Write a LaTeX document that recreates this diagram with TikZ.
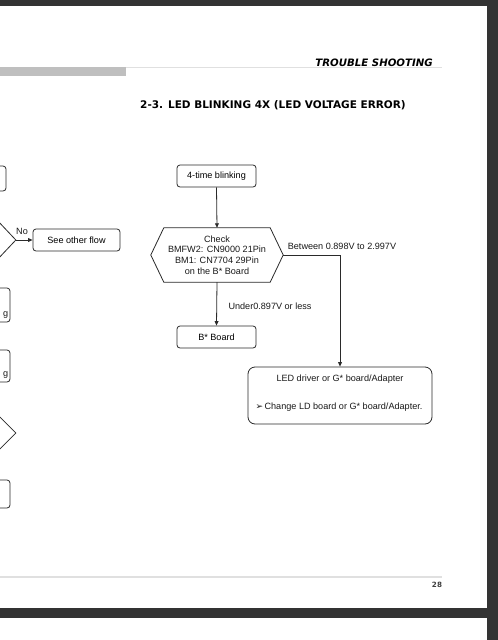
\documentclass[tikz,border=0pt]{standalone}
\usepackage{fontspec}
\setmainfont{Liberation Sans}
\newfontfamily\dvsans{DejaVu Sans}
\usetikzlibrary{arrows.meta,shapes.geometric}
\definecolor{frame}{HTML}{333333}
\definecolor{edge}{HTML}{2A2A2A}
\begin{document}
\begin{tikzpicture}[x=1pt,y=-1pt,
  box/.style={draw=edge, line width=0.8pt, rounded corners=3pt, inner sep=0,
    font=\fontsize{9.1}{10.6}\selectfont, align=center},
  dia/.style={draw=edge, line width=0.8pt, diamond, inner sep=0},
  lbl/.style={font=\fontsize{9.1}{10.6}\selectfont, inner sep=0, text=black!90},
  arr/.style={draw=edge, line width=0.8pt, -{Triangle[length=4.5pt,width=3.8pt]}},
  ln/.style={draw=edge, line width=0.8pt}]
\useasboundingbox (0,0) rectangle (498,640);
\fill[white] (0,0) rectangle (498,640);
\begin{scope}
\clip (0,0) rectangle (487,608);
% header
\node[font=\dvsans\bfseries\itshape\fontsize{10.2}{12}\selectfont, anchor=base east, inner sep=0] (hdr) at (433,66) {TROUBLE SHOOTING};
\fill[black!25] (0,67) rectangle (126,76);
\draw[black!12, line width=1.2pt] (126,67.5) -- (442,67.5);
\node[font=\dvsans\bfseries\fontsize{10.5}{12}\selectfont, inner sep=0] (title) at (273,105) {2-3. LED BLINKING 4X (LED VOLTAGE ERROR)};
% left partial column
\node[box, minimum width=60, minimum height=25] (l1) at (-24,178.5) {};
\node[dia, minimum width=100, minimum height=106] (d1) at (-34,240) {};
\node[box, minimum width=87, minimum height=22] (other) at (76.5,240) {See other flow};
\draw[arr] (d1.east) -- (other.west);
\node[lbl] (no) at (22,231) {No};
\node[box, minimum width=80, minimum height=34] (l3) at (-30,305) {};
\node[lbl, anchor=base east] (g1) at (8.3,316) {g};
\node[box, minimum width=80, minimum height=32] (l4) at (-30,366) {};
\node[lbl, anchor=base east] (g2) at (8.3,376) {g};
\node[dia, minimum width=100, minimum height=100] (d2) at (-34,433) {};
\node[box, minimum width=80, minimum height=28] (l5) at (-30,494) {};
% main flow
\node[box, minimum width=79, minimum height=22] (blink) at (216.5,176) {4-time blinking};
\node[lbl, align=center, minimum width=132, minimum height=54] (hex) at (217,255)
  {Check\\BMFW2: CN9000 21Pin\\BM1: CN7704 29Pin\\on the B* Board};
\draw[ln] (hex.west) -- ([xshift=13pt]hex.north west) -- ([xshift=-13pt]hex.north east)
  -- (hex.east) -- ([xshift=-13pt]hex.south east) -- ([xshift=13pt]hex.south west) -- cycle;
\node[box, minimum width=79, minimum height=22] (bboard) at (216.5,337) {B* Board};
\node[box, rounded corners=7pt, minimum width=184, minimum height=57] (led) at (340,395.5) {};
\node[lbl] (ledt1) at (340,379) {LED driver or G* board/Adapter};
\node[lbl] (ledt2) at (339,407) {{\dvsans\fontsize{9}{9}\selectfont ➢}\,Change LD board or G* board/Adapter.};
\draw[arr] (blink.south) -- (hex.north);
\draw[arr] (hex.south) -- (bboard.north);
\draw[arr] (hex.east) -| (led.north);
\node[lbl] (between) at (342,246) {Between 0.898V to 2.997V};
\node[lbl] (under) at (270,306) {Under0.897V or less};
% footer
\draw[black!12, line width=1.2pt] (0,577) -- (442,577);
\node[font=\dvsans\bfseries\fontsize{7.2}{8}\selectfont, text=black!75, inner sep=0] (pg) at (437,585) {28};
\end{scope}
% viewer frame
\fill[frame] (0,0) rectangle (498,6);
\fill[frame] (487,0) rectangle (498,640);
\fill[frame] (0,608) rectangle (498,618);
\end{tikzpicture}
\end{document}
